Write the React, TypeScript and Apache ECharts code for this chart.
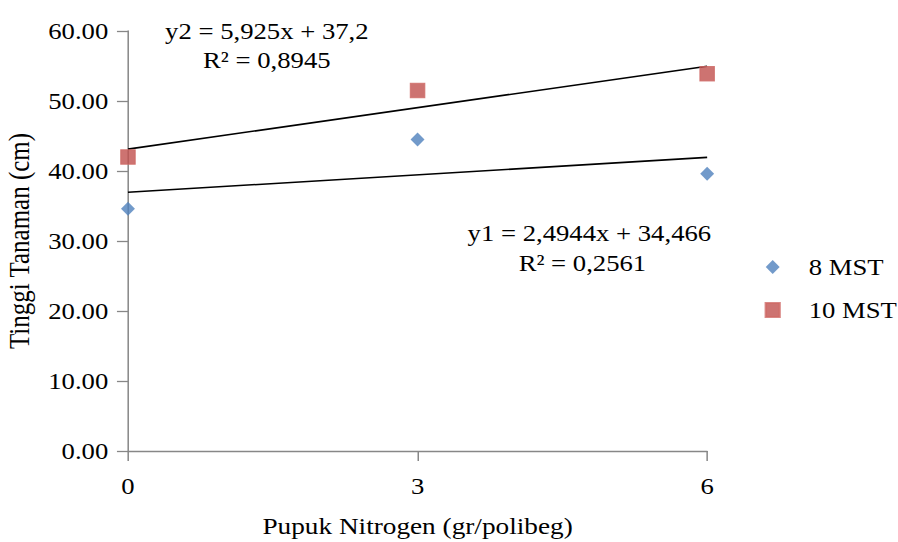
import React, { useEffect, useRef } from 'react';
import * as echarts from 'echarts';

// ---- data ----
const xValues = [0, 3, 6];
const seriesNames = ['8 MST', '10 MST'];
const mst8 = [34.6, 44.5, 39.6];
const mst10 = [42.0, 51.5, 53.9];
// Trendline coefficients as printed (Excel index x = 1..3 for doses 0,3,6)
const trend8 = { slope: 2.4944, intercept: 34.466 };
const trend10 = { slope: 5.925, intercept: 37.2 };
const trendX = [0, 6];
const eq8 = ['y1 = 2,4944x + 34,466', 'R² = 0,2561'];
const eq10 = ['y2 = 5,925x + 37,2', 'R² = 0,8945'];
const yTitle = 'Tinggi Tanaman (cm)';
const xTitle = 'Pupuk Nitrogen (gr/polibeg)';

const TOTAL_W = 898;
const H = 542;
const W = 774;
const S = TOTAL_W / W;
const FONT = 'Liberation Serif';
const AXIS_COLOR = '#878787';

const trendPoints = (t: { slope: number; intercept: number }) =>
  trendX.map((x) => [x, t.slope * (x / 3 + 1) + t.intercept]);

export default function App() {
  const ref = useRef<HTMLDivElement>(null);
  useEffect(() => {
    if (!ref.current) return;
    const chart = echarts.init(ref.current, null, { renderer: 'svg' });
    const txt = (text: string, x: number, y: number) => ({
      type: 'text',
      x,
      y,
      style: {
        text,
        fill: '#000',
        fontFamily: FONT,
        fontSize: 23,
        align: 'center',
        verticalAlign: 'middle',
      },
    });
    chart.setOption({
      animation: false,
      backgroundColor: '#fff',
      textStyle: { fontFamily: FONT },
      grid: {
        left: 110.3,
        right: W - 609.5,
        top: 31,
        bottom: H - 451,
        containLabel: false,
        outerBoundsMode: 'none',
      },
      xAxis: {
        type: 'value',
        min: 0,
        max: 6,
        interval: 3,
        axisLine: { lineStyle: { color: AXIS_COLOR, width: 1.3 } },
        axisTick: { show: true, length: 10, lineStyle: { color: AXIS_COLOR, width: 1.3 } },
        splitLine: { show: false },
        axisLabel: { color: '#000', fontFamily: FONT, fontSize: 23, margin: 24 },
        name: xTitle,
        nameLocation: 'middle',
        nameGap: 63,
        nameTextStyle: { color: '#000', fontFamily: FONT, fontSize: 23.5 },
      },
      yAxis: {
        type: 'value',
        min: 0,
        max: 60,
        interval: 10,
        axisLine: { show: true, lineStyle: { color: AXIS_COLOR, width: 1.3 } },
        axisTick: { show: true, length: 9.5, lineStyle: { color: AXIS_COLOR, width: 1.3 } },
        splitLine: { show: false },
        axisLabel: {
          color: '#000',
          fontFamily: FONT,
          fontSize: 23,
          margin: 17,
          formatter: (v: number) => v.toFixed(2),
        },
        name: yTitle,
        nameLocation: 'middle',
        nameGap: 81,
        nameTextStyle: { color: '#000', fontFamily: FONT, fontSize: 25 },
      },
      legend: {
        orient: 'vertical',
        left: 654,
        top: 250.5,
        itemWidth: 12,
        itemHeight: 14,
        itemGap: 20,
        data: [
          { name: seriesNames[0], icon: 'diamond' },
          { name: seriesNames[1], icon: 'rect' },
        ],
        textStyle: {
          color: '#000',
          fontFamily: FONT,
          fontSize: 23,
          lineHeight: 23,
          padding: [0, 0, 0, 20],
        },
      },
      series: [
        {
          name: seriesNames[0],
          type: 'scatter',
          symbol: 'diamond',
          symbolSize: [12, 14],
          itemStyle: { color: '#4F81BD' },
          data: xValues.map((x, i) => [x, mst8[i]]),
          z: 3,
        },
        {
          name: seriesNames[1],
          type: 'scatter',
          symbol: 'rect',
          symbolSize: [12.5, 14.5],
          itemStyle: { color: '#C0504D', borderColor: '#D06a67', borderWidth: 1 },
          data: xValues.map((x, i) => [x, mst10[i]]),
          z: 3,
        },
        {
          name: 'Linear (8 MST)',
          type: 'line',
          data: trendPoints(trend8),
          symbol: 'none',
          lineStyle: { color: '#000', width: 1.6 },
          z: 2,
        },
        {
          name: 'Linear (10 MST)',
          type: 'line',
          data: trendPoints(trend10),
          symbol: 'none',
          lineStyle: { color: '#000', width: 1.6 },
          z: 2,
        },
      ],
      graphic: [
        txt(eq10[0], 230, 31),
        txt(eq10[1], 230, 60),
        txt(eq8[0], 508, 233),
        txt(eq8[1], 502, 263),
      ],
    });
    return () => chart.dispose();
  }, []);
  return (
    <div
      style={{
        position: 'fixed',
        left: 0,
        top: 0,
        width: TOTAL_W,
        height: H,
        overflow: 'hidden',
        background: '#fff',
      }}
    >
      <div
        ref={ref}
        style={{ width: W, height: H, transform: `scaleX(${S})`, transformOrigin: '0 0' }}
      />
    </div>
  );
}
